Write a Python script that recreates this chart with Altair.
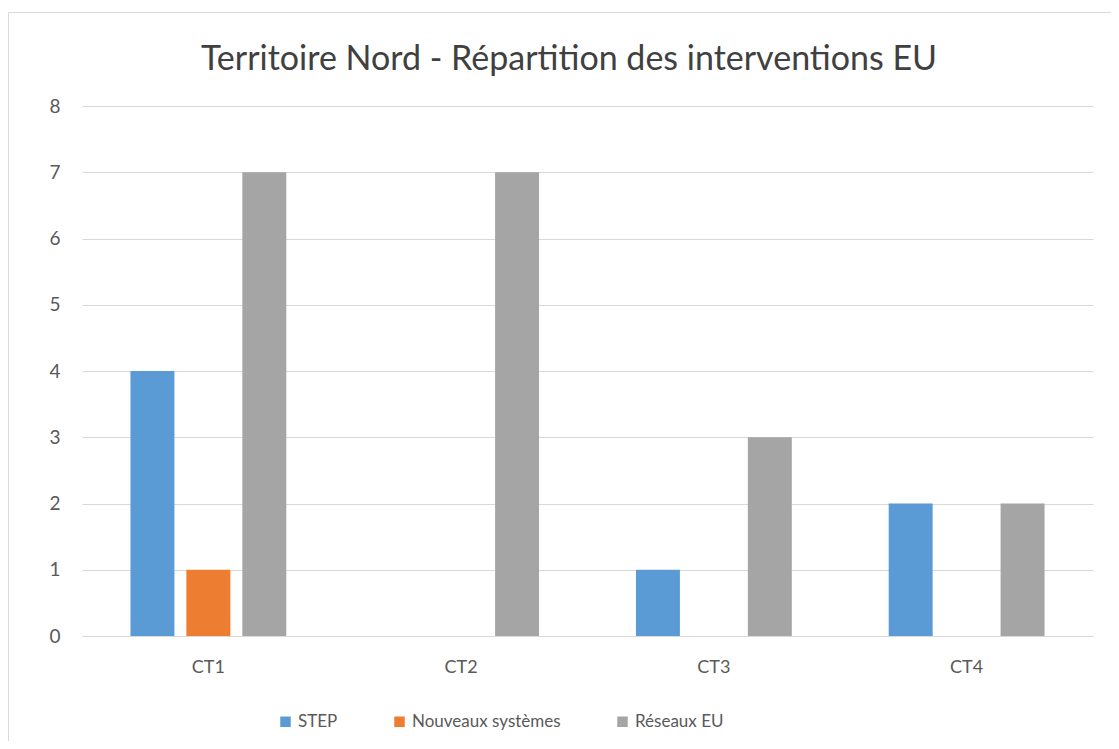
import altair as alt
import pandas as pd

categories = ["CT1", "CT2", "CT3", "CT4"]
series = ["STEP", "Nouveaux systèmes", "Réseaux EU"]
step_vals = [4, 0, 1, 2]
nouveaux_vals = [1, 0, 0, 0]
reseaux_vals = [7, 7, 3, 2]
colors = ["#5B9BD5", "#ED7D31", "#A5A5A5"]
title_text = "Territoire Nord - Répartition des interventions EU"

rows = []
for i, c in enumerate(categories):
    for s, vals in zip(series, [step_vals, nouveaux_vals, reseaux_vals]):
        rows.append({"cat": c, "serie": s, "val": vals[i]})
df = pd.DataFrame(rows)

FONT = "Lato"

bars = alt.Chart(df).mark_bar().encode(
    x=alt.X("cat:N", sort=categories, title=None,
            scale=alt.Scale(paddingInner=0, paddingOuter=0),
            axis=alt.Axis(labelAngle=0, ticks=False, domain=True, domainColor="#D9D9D9",
                          labelFontSize=18, labelColor="#595959", labelPadding=22,
                          labelFont=FONT)),
    xOffset=alt.XOffset("serie:N", sort=series,
                        scale=alt.Scale(paddingInner=0.214, paddingOuter=0.866)),
    y=alt.Y("val:Q", title=None,
            scale=alt.Scale(domain=[0, 8], nice=False),
            axis=alt.Axis(values=list(range(9)), ticks=False, domain=False,
                          gridColor="#D9D9D9", gridWidth=1,
                          labelFontSize=19, labelColor="#595959", labelPadding=22,
                          labelFont=FONT)),
    color=alt.Color("serie:N", sort=series,
                    scale=alt.Scale(domain=series, range=colors),
                    legend=alt.Legend(title=None, orient="none", direction="horizontal",
                                      legendX=195, legendY=607, symbolType="square",
                                      symbolSize=110, symbolStrokeWidth=0,
                                      labelFontSize=17, labelColor="#595959",
                                      labelFont=FONT, columnPadding=53, symbolOffset=0)),
)

border = alt.Chart(pd.DataFrame({"a": [0]})).mark_rect(
    filled=False, stroke="#D9D9D9", strokeWidth=1
).encode(
    x=alt.value(-73.5), x2=alt.value(1060), y=alt.value(-93.5), y2=alt.value(700)
)

title = alt.Chart(pd.DataFrame({"t": [title_text]})).mark_text(
    font=FONT, fontSize=34, color="#404040", align="center", baseline="alphabetic"
).encode(
    text="t:N", x=alt.value(487), y=alt.value(-36)
)

chart = alt.layer(border, bars, title).properties(
    width=1011, height=530,
    autosize=alt.AutoSizeParams(type="none"),
    padding={"left": 74, "top": 98, "right": 18, "bottom": 105},
).configure(background="white").configure_view(stroke=None)

chart.save("out.html", embed_options={"renderer": "svg", "actions": False})
